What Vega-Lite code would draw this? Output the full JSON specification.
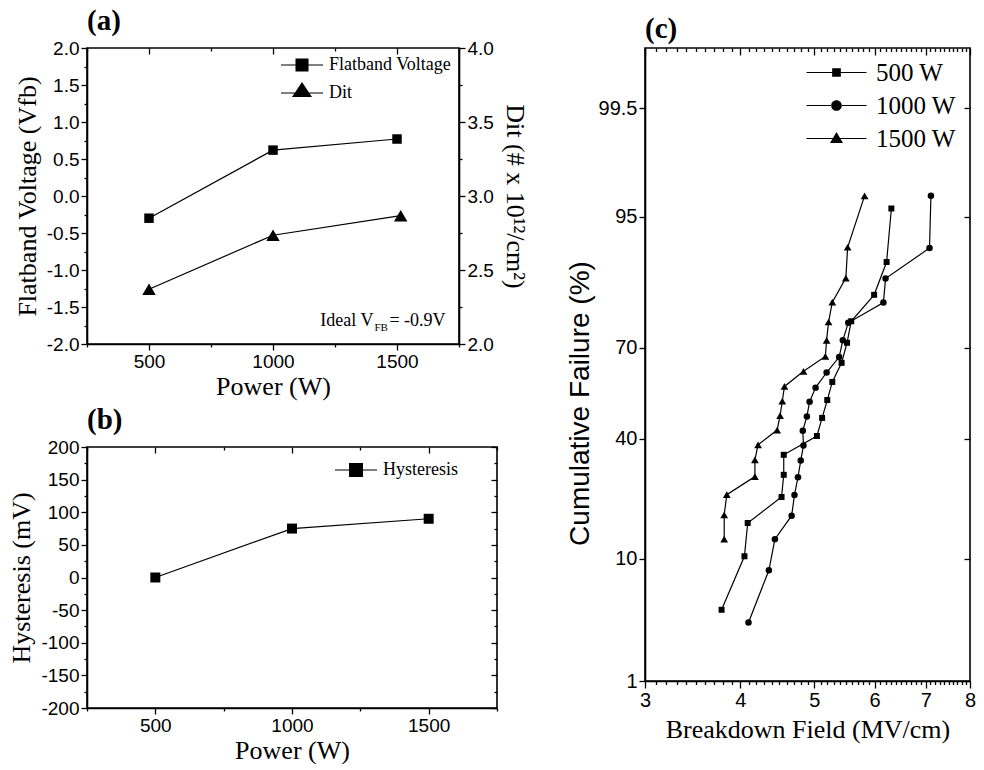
{
  "$schema": "https://vega.github.io/schema/vega-lite/v6.json",
  "background": "white",
  "padding": {"left": 8, "top": 6, "right": 0, "bottom": 0},
  "config": {
    "view": {"stroke": "black", "strokeWidth": 1.6},
    "axis": {"grid": false, "domainColor": "black", "domainWidth": 1.6, "tickColor": "black", "tickWidth": 1.3, "labelColor": "black", "labelFont": "Liberation Sans", "labelFontSize": 19, "titleColor": "black", "titleFont": "Liberation Serif", "titleFontSize": 26, "titleFontWeight": "normal", "labelFlush": false, "labelOverlap": false, "labelPadding": 2},
    "title": {"font": "Liberation Serif", "fontSize": 29, "fontWeight": "bold", "anchor": "start", "frame": "group", "color": "black", "offset": 3},
    "legend": {"symbolOpacity": 1, "symbolFillColor": "black", "symbolStrokeColor": "black", "symbolStrokeWidth": 1.1, "labelColor": "black", "labelFont": "Liberation Serif"}
  },
  "datasets": {
    "fb": [{"power": 500, "vfb": -0.3}, {"power": 1000, "vfb": 0.62}, {"power": 1500, "vfb": 0.77}],
    "dit": [{"power": 500, "dit": 2.37}, {"power": 1000, "dit": 2.735}, {"power": 1515, "dit": 2.867}],
    "hyst": [{"power": 500, "hyst": 0}, {"power": 1000, "hyst": 75}, {"power": 1500, "hyst": 90}],
    "bd": [
      {"series": "500 W", "E": 3.78, "F": 4.3}, {"series": "500 W", "E": 4.05, "F": 10.4}, {"series": "500 W", "E": 4.09, "F": 16.5}, {"series": "500 W", "E": 4.53, "F": 22.6}, {"series": "500 W", "E": 4.56, "F": 28.7}, {"series": "500 W", "E": 4.56, "F": 34.8}, {"series": "500 W", "E": 5.04, "F": 40.9}, {"series": "500 W", "E": 5.12, "F": 47.0}, {"series": "500 W", "E": 5.2, "F": 53.1}, {"series": "500 W", "E": 5.28, "F": 59.2}, {"series": "500 W", "E": 5.43, "F": 65.4}, {"series": "500 W", "E": 5.52, "F": 71.5}, {"series": "500 W", "E": 5.59, "F": 77.4}, {"series": "500 W", "E": 5.99, "F": 83.6}, {"series": "500 W", "E": 6.22, "F": 89.6}, {"series": "500 W", "E": 6.31, "F": 95.7},
      {"series": "1000 W", "E": 4.1, "F": 3.4}, {"series": "1000 W", "E": 4.36, "F": 8.4}, {"series": "1000 W", "E": 4.44, "F": 13.3}, {"series": "1000 W", "E": 4.67, "F": 18.1}, {"series": "1000 W", "E": 4.71, "F": 23.1}, {"series": "1000 W", "E": 4.76, "F": 28.0}, {"series": "1000 W", "E": 4.8, "F": 33.0}, {"series": "1000 W", "E": 4.84, "F": 37.8}, {"series": "1000 W", "E": 4.83, "F": 42.7}, {"series": "1000 W", "E": 4.89, "F": 47.5}, {"series": "1000 W", "E": 4.93, "F": 52.5}, {"series": "1000 W", "E": 5.02, "F": 57.3}, {"series": "1000 W", "E": 5.19, "F": 62.3}, {"series": "1000 W", "E": 5.39, "F": 67.2}, {"series": "1000 W", "E": 5.45, "F": 72.2}, {"series": "1000 W", "E": 5.54, "F": 77.0}, {"series": "1000 W", "E": 6.16, "F": 81.9}, {"series": "1000 W", "E": 6.2, "F": 86.8}, {"series": "1000 W", "E": 7.08, "F": 91.6}, {"series": "1000 W", "E": 7.11, "F": 96.6},
      {"series": "1500 W", "E": 3.81, "F": 13.3}, {"series": "1500 W", "E": 3.81, "F": 18.3}, {"series": "1500 W", "E": 3.84, "F": 23.2}, {"series": "1500 W", "E": 4.18, "F": 28.2}, {"series": "1500 W", "E": 4.18, "F": 33.2}, {"series": "1500 W", "E": 4.22, "F": 38.0}, {"series": "1500 W", "E": 4.47, "F": 42.9}, {"series": "1500 W", "E": 4.51, "F": 47.8}, {"series": "1500 W", "E": 4.54, "F": 52.7}, {"series": "1500 W", "E": 4.57, "F": 57.7}, {"series": "1500 W", "E": 4.84, "F": 62.7}, {"series": "1500 W", "E": 5.17, "F": 67.4}, {"series": "1500 W", "E": 5.19, "F": 72.2}, {"series": "1500 W", "E": 5.22, "F": 77.2}, {"series": "1500 W", "E": 5.28, "F": 82.0}, {"series": "1500 W", "E": 5.5, "F": 86.9}, {"series": "1500 W", "E": 5.53, "F": 91.7}, {"series": "1500 W", "E": 5.82, "F": 96.6}
    ]
  },
  "resolve": {"scale": {"shape": "independent"}, "legend": {"shape": "independent"}},
  "spacing": 36,
  "hconcat": [
    {
      "vconcat": [
        {
          "title": {"text": "(a)"},
          "width": 372,
          "height": 296,
          "layer": [
            {
              "data": {"name": "fb"},
              "mark": {"type": "line", "color": "black", "strokeWidth": 1.2},
              "encoding": {
                "x": {"field": "power", "type": "quantitative", "scale": {"domain": [250, 1750], "nice": false, "zero": false},
                  "axis": {"orient": "bottom", "title": "Power (W)", "values": [250, 500, 750, 1000, 1250, 1500, 1750], "labelExpr": "datum.value % 500 == 0 ? format(datum.value, 'd') : ''", "tickSize": {"condition": {"test": "datum.value % 500 == 0", "value": 6}, "value": 3}, "titlePadding": 2}},
                "y": {"field": "vfb", "type": "quantitative", "scale": {"domain": [-2, 2], "nice": false, "zero": false},
                  "axis": {"orient": "left", "title": "Flatband Voltage (Vfb)", "values": [-2, -1.75, -1.5, -1.25, -1, -0.75, -0.5, -0.25, 0, 0.25, 0.5, 0.75, 1, 1.25, 1.5, 1.75, 2], "labelExpr": "abs(datum.value*2 - round(datum.value*2)) < 0.01 ? replace(format(datum.value, '.1f'), '\u2212', '-') : ''", "tickSize": {"condition": {"test": "abs(datum.value*2 - round(datum.value*2)) < 0.01", "value": 6}, "value": 3}, "titlePadding": 6}}
              }
            },
            {
              "data": {"name": "fb"},
              "mark": {"type": "point", "filled": true, "opacity": 1, "color": "black", "size": 90, "shape": "square"},
              "encoding": {
                "x": {"field": "power", "type": "quantitative", "scale": {"domain": [250, 1750], "nice": false, "zero": false},
                  "axis": {"orient": "top", "title": null, "labels": false, "domain": false, "values": [250, 500, 750, 1000, 1250, 1500, 1750], "tickSize": {"condition": {"test": "datum.value % 500 == 0", "value": -6}, "value": -3}}},
                "y": {"field": "vfb", "type": "quantitative", "scale": {"domain": [-2, 2], "nice": false, "zero": false}, "axis": null}
              }
            },
            {
              "data": {"name": "fb"},
              "mark": {"type": "point", "filled": true, "opacity": 0, "color": "black", "size": 90},
              "encoding": {
                "x": {"field": "power", "type": "quantitative", "scale": {"domain": [250, 1750], "nice": false, "zero": false}, "axis": null},
                "y": {"field": "vfb", "type": "quantitative", "scale": {"domain": [-2, 2], "nice": false, "zero": false}, "axis": null},
                "shape": {"datum": "Flatband Voltage", "type": "nominal", "scale": {"domain": ["Flatband Voltage", "Dit"], "range": ["M-3,-0.08H-0.93V0.08H-3ZM0.93,-0.08H3V0.08H0.93ZM-0.93,-0.93H0.93V0.93H-0.93Z", "M-3,-0.08H-1.04V0.08H-3ZM1.04,-0.08H3V0.08H1.04ZM0,-1.56L1.43,0.58H-1.43Z"]},
                  "legend": {"orient": "none", "legendX": 206, "legendY": 8, "title": null, "labelFontSize": 18, "symbolSize": 196, "labelOffset": 18, "rowPadding": 5}}
              }
            },
            {
              "data": {"name": "dit"},
              "mark": {"type": "line", "color": "black", "strokeWidth": 1.2},
              "encoding": {
                "x": {"field": "power", "type": "quantitative", "scale": {"domain": [250, 1750], "nice": false, "zero": false}, "axis": null},
                "y": {"field": "dit", "type": "quantitative", "scale": {"domain": [2, 4], "nice": false, "zero": false},
                  "axis": {"orient": "right", "title": "Dit (# x 10¹²/cm²)", "values": [2, 2.25, 2.5, 2.75, 3, 3.25, 3.5, 3.75, 4], "labelExpr": "abs(datum.value*2 - round(datum.value*2)) < 0.01 ? format(datum.value, '.1f') : ''", "tickSize": {"condition": {"test": "abs(datum.value*2 - round(datum.value*2)) < 0.01", "value": 6}, "value": 3}, "titlePadding": 8}}
              }
            },
            {
              "data": {"name": "dit"},
              "mark": {"type": "point", "filled": true, "opacity": 1, "color": "black", "size": 180, "shape": "triangle-up"},
              "encoding": {
                "x": {"field": "power", "type": "quantitative", "scale": {"domain": [250, 1750], "nice": false, "zero": false}, "axis": null},
                "y": {"field": "dit", "type": "quantitative", "scale": {"domain": [2, 4], "nice": false, "zero": false}, "axis": null}
              }
            },
            {
              "data": {"name": "dit"},
              "mark": {"type": "point", "filled": true, "opacity": 0, "color": "black", "size": 180},
              "encoding": {
                "x": {"field": "power", "type": "quantitative", "scale": {"domain": [250, 1750], "nice": false, "zero": false}, "axis": null},
                "y": {"field": "dit", "type": "quantitative", "scale": {"domain": [2, 4], "nice": false, "zero": false}, "axis": null},
                "shape": {"datum": "Dit", "type": "nominal", "scale": {"domain": ["Flatband Voltage", "Dit"], "range": ["M-3,-0.08H-0.93V0.08H-3ZM0.93,-0.08H3V0.08H0.93ZM-0.93,-0.93H0.93V0.93H-0.93Z", "M-3,-0.08H-1.04V0.08H-3ZM1.04,-0.08H3V0.08H1.04ZM0,-1.56L1.43,0.58H-1.43Z"]}}
              }
            },
            {
              "data": {"values": [{}]},
              "mark": {"type": "text", "align": "right", "baseline": "alphabetic", "font": "Liberation Serif", "fontSize": 18, "color": "black"},
              "encoding": {
                "x": {"datum": 1405, "type": "quantitative", "scale": {"domain": [250, 1750], "nice": false, "zero": false}, "axis": null},
                "y": {"datum": -1.76, "type": "quantitative", "scale": {"domain": [-2, 2], "nice": false, "zero": false}, "axis": null},
                "text": {"value": "Ideal V"}
              }
            },
            {
              "data": {"values": [{}]},
              "mark": {"type": "text", "align": "left", "baseline": "alphabetic", "font": "Liberation Serif", "fontSize": 11, "color": "black", "dx": 1, "dy": 5},
              "encoding": {
                "x": {"datum": 1405, "type": "quantitative", "scale": {"domain": [250, 1750], "nice": false, "zero": false}, "axis": null},
                "y": {"datum": -1.76, "type": "quantitative", "scale": {"domain": [-2, 2], "nice": false, "zero": false}, "axis": null},
                "text": {"value": "FB"}
              }
            },
            {
              "data": {"values": [{}]},
              "mark": {"type": "text", "align": "left", "baseline": "alphabetic", "font": "Liberation Serif", "fontSize": 18, "color": "black", "dx": 16},
              "encoding": {
                "x": {"datum": 1405, "type": "quantitative", "scale": {"domain": [250, 1750], "nice": false, "zero": false}, "axis": null},
                "y": {"datum": -1.76, "type": "quantitative", "scale": {"domain": [-2, 2], "nice": false, "zero": false}, "axis": null},
                "text": {"value": "= -0.9V"}
              }
            }
          ],
          "resolve": {"scale": {"y": "independent"}, "axis": {"x": "independent", "y": "independent"}}
        },
        {
          "title": {"text": "(b)"},
          "width": 410,
          "height": 261,
          "layer": [
            {
              "data": {"name": "hyst"},
              "mark": {"type": "line", "color": "black", "strokeWidth": 1.2},
              "encoding": {
                "x": {"field": "power", "type": "quantitative", "scale": {"domain": [250, 1750], "nice": false, "zero": false},
                  "axis": {"orient": "bottom", "title": "Power (W)", "values": [250, 500, 750, 1000, 1250, 1500, 1750], "labelExpr": "datum.value % 500 == 0 ? format(datum.value, 'd') : ''", "tickSize": {"condition": {"test": "datum.value % 500 == 0", "value": 6}, "value": 3}, "titlePadding": 2}},
                "y": {"field": "hyst", "type": "quantitative", "scale": {"domain": [-200, 200], "nice": false, "zero": false},
                  "axis": {"orient": "left", "title": "Hysteresis (mV)", "values": [-200, -175, -150, -125, -100, -75, -50, -25, 0, 25, 50, 75, 100, 125, 150, 175, 200], "labelExpr": "datum.value % 50 == 0 ? replace(format(datum.value, 'd'), '\u2212', '-') : ''", "tickSize": {"condition": {"test": "datum.value % 50 == 0", "value": 6}, "value": 3}, "titlePadding": 6}}
              }
            },
            {
              "data": {"name": "hyst"},
              "mark": {"type": "point", "filled": true, "opacity": 1, "color": "black", "size": 100, "shape": "square"},
              "encoding": {
                "x": {"field": "power", "type": "quantitative", "scale": {"domain": [250, 1750], "nice": false, "zero": false},
                  "axis": {"orient": "top", "title": null, "labels": false, "domain": false, "values": [250, 500, 750, 1000, 1250, 1500, 1750], "tickSize": {"condition": {"test": "datum.value % 500 == 0", "value": -6}, "value": -3}}},
                "y": {"field": "hyst", "type": "quantitative", "scale": {"domain": [-200, 200], "nice": false, "zero": false},
                  "axis": {"orient": "right", "title": null, "labels": false, "domain": false, "values": [-200, -175, -150, -125, -100, -75, -50, -25, 0, 25, 50, 75, 100, 125, 150, 175, 200], "tickSize": {"condition": {"test": "datum.value % 50 == 0", "value": -6}, "value": -3}}}
              }
            },
            {
              "data": {"name": "hyst"},
              "mark": {"type": "point", "filled": true, "opacity": 0, "color": "black", "size": 100},
              "encoding": {
                "x": {"field": "power", "type": "quantitative", "scale": {"domain": [250, 1750], "nice": false, "zero": false}, "axis": null},
                "y": {"field": "hyst", "type": "quantitative", "scale": {"domain": [-200, 200], "nice": false, "zero": false}, "axis": null},
                "shape": {"datum": "Hysteresis", "type": "nominal", "scale": {"domain": ["Hysteresis"], "range": ["M-3,-0.08H-1V0.08H-3ZM1,-0.08H3V0.08H1ZM-1,-1H1V1H-1Z"]},
                  "legend": {"orient": "none", "legendX": 260, "legendY": 14, "title": null, "labelFontSize": 18, "symbolSize": 196, "labelOffset": 18}}
              }
            }
          ],
          "resolve": {"axis": {"x": "independent", "y": "independent"}}
        }
      ],
      "spacing": 5,
      "resolve": {"scale": {"shape": "independent"}, "legend": {"shape": "independent"}}
    },
    {
      "title": {"text": "(c)"},
      "width": 325,
      "height": 633,
      "data": {"name": "bd"},
      "transform": [{"calculate": "quantileNormal(datum.F / 100)", "as": "z"}],
      "layer": [
        {
          "mark": {"type": "line", "color": "black", "strokeWidth": 1.2},
          "encoding": {
            "x": {"field": "E", "type": "quantitative", "scale": {"type": "log", "domain": [3, 8], "nice": false},
              "axis": {"orient": "bottom", "title": "Breakdown Field (MV/cm)", "values": [3, 3.1, 3.2, 3.3, 3.4, 3.5, 3.6, 3.7, 3.8, 3.9, 4, 4.1, 4.2, 4.3, 4.4, 4.5, 4.6, 4.7, 4.8, 4.9, 5, 5.1, 5.2, 5.3, 5.4, 5.5, 5.6, 5.7, 5.8, 5.9, 6, 6.1, 6.2, 6.3, 6.4, 6.5, 6.6, 6.7, 6.8, 6.9, 7, 7.1, 7.2, 7.3, 7.4, 7.5, 7.6, 7.7, 7.8, 7.9, 8], "labelExpr": "abs(datum.value - round(datum.value)) < 0.01 ? format(datum.value, 'd') : ''", "tickSize": {"condition": {"test": "abs(datum.value - round(datum.value)) < 0.01", "value": 7}, "value": 3.5}, "labelFontSize": 20, "titlePadding": 6}},
            "y": {"field": "z", "type": "quantitative", "scale": {"domain": [-2.3263, 3.0902], "nice": false, "zero": false},
              "axis": {"orient": "left", "title": "Cumulative Failure (%)", "titleFont": "Liberation Sans", "titleFontSize": 28, "titleY": 355, "values": [-2.3263, -1.2816, -0.2533, 0.5244, 1.6449, 2.5758], "labelExpr": "round(cumulativeNormal(datum.value) * 1000) / 10", "tickSize": 6, "labelFontSize": 20, "titlePadding": 4}},
            "detail": {"field": "series", "type": "nominal"},
            "order": {"field": "F", "type": "quantitative"}
          }
        },
        {
          "transform": [{"filter": "datum.series === '500 W'"}],
          "mark": {"type": "point", "filled": true, "opacity": 1, "color": "black", "size": 36, "shape": "square"},
          "encoding": {
            "x": {"field": "E", "type": "quantitative", "scale": {"type": "log", "domain": [3, 8], "nice": false},
              "axis": {"orient": "top", "title": null, "labels": false, "domain": false, "values": [3, 3.1, 3.2, 3.3, 3.4, 3.5, 3.6, 3.7, 3.8, 3.9, 4, 4.1, 4.2, 4.3, 4.4, 4.5, 4.6, 4.7, 4.8, 4.9, 5, 5.1, 5.2, 5.3, 5.4, 5.5, 5.6, 5.7, 5.8, 5.9, 6, 6.1, 6.2, 6.3, 6.4, 6.5, 6.6, 6.7, 6.8, 6.9, 7, 7.1, 7.2, 7.3, 7.4, 7.5, 7.6, 7.7, 7.8, 7.9, 8], "tickSize": {"condition": {"test": "abs(datum.value - round(datum.value)) < 0.01", "value": -7}, "value": -3.5}}},
            "y": {"field": "z", "type": "quantitative", "scale": {"domain": [-2.3263, 3.0902], "nice": false, "zero": false},
              "axis": {"orient": "right", "title": null, "labels": false, "domain": false, "values": [-2.3263, -1.2816, -0.2533, 0.5244, 1.6449, 2.5758], "tickSize": -6}}
          }
        },
        {
          "transform": [{"filter": "datum.series === '1000 W'"}],
          "mark": {"type": "point", "filled": true, "opacity": 1, "color": "black", "size": 42, "shape": "circle"},
          "encoding": {
            "x": {"field": "E", "type": "quantitative", "scale": {"type": "log", "domain": [3, 8], "nice": false}, "axis": null},
            "y": {"field": "z", "type": "quantitative", "scale": {"domain": [-2.3263, 3.0902], "nice": false, "zero": false}, "axis": null}
          }
        },
        {
          "transform": [{"filter": "datum.series === '1500 W'"}],
          "mark": {"type": "point", "filled": true, "opacity": 1, "color": "black", "size": 60, "shape": "triangle-up"},
          "encoding": {
            "x": {"field": "E", "type": "quantitative", "scale": {"type": "log", "domain": [3, 8], "nice": false}, "axis": null},
            "y": {"field": "z", "type": "quantitative", "scale": {"domain": [-2.3263, 3.0902], "nice": false, "zero": false}, "axis": null}
          }
        },
        {
          "mark": {"type": "point", "filled": true, "opacity": 0, "color": "black", "size": 45},
          "encoding": {
            "x": {"field": "E", "type": "quantitative", "scale": {"type": "log", "domain": [3, 8], "nice": false}, "axis": null},
            "y": {"field": "z", "type": "quantitative", "scale": {"domain": [-2.3263, 3.0902], "nice": false, "zero": false}, "axis": null},
            "shape": {"field": "series", "type": "nominal", "scale": {"domain": ["500 W", "1000 W", "1500 W"], "range": ["M-6,-0.12H-0.87V0.12H-6ZM0.87,-0.12H6V0.12H0.87ZM-0.87,-0.87H0.87V0.87H-0.87Z", "M-6,-0.12H-1V0.12H-6ZM1,-0.12H6V0.12H1ZM-1.07,0A1.07,1.07 0 1,0 1.07,0A1.07,1.07 0 1,0 -1.07,0Z", "M-6,-0.12H-0.77V0.12H-6ZM0.77,-0.12H6V0.12H0.77ZM0,-1.3L1.3,0.9H-1.3Z"]},
              "legend": {"orient": "none", "legendX": 179, "legendY": 12, "title": null, "labelFontSize": 25, "symbolSize": 100, "labelOffset": 27, "rowPadding": 7}}
          }
        }
      ],
      "resolve": {"axis": {"x": "independent", "y": "independent"}}
    }
  ]
}
